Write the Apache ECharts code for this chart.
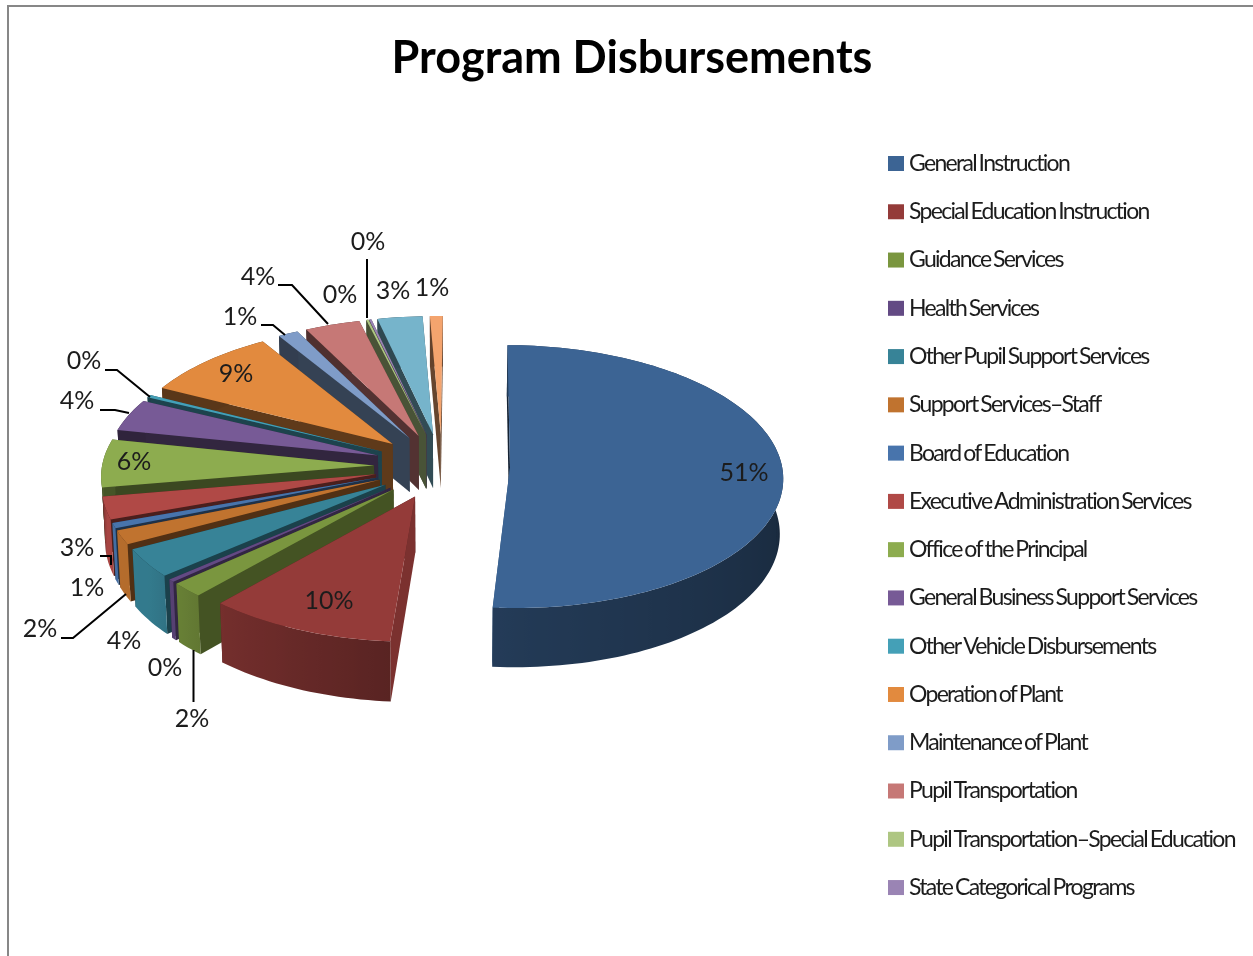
<!DOCTYPE html>
<html><head><meta charset="utf-8">
<style>html,body{margin:0;padding:0;background:#fff}#c{width:1253px;height:956px}</style>
<script src="https://cdn.jsdelivr.net/npm/echarts@6/dist/echarts.min.js"></script>
</head><body><div id="c"></div>
<script>
const titleText = 'Program Disbursements';
const names = ['General Instruction','Special Education Instruction','Guidance Services','Health Services','Other Pupil Support Services','Support Services–Staff','Board of Education','Executive Administration Services','Office of the Principal','General Business Support Services','Other Vehicle Disbursements','Operation of Plant','Maintenance of Plant','Pupil Transportation','Pupil Transportation–Special Education','State Categorical Programs','Other Programs','Other Disbursements'];
const legendCount = 16;
const values = [51.1,10.3,1.8,0.35,3.55,1.7,0.65,2.75,5.9,3.95,0.33,8.75,1.3,3.55,0.15,0.15,2.9,0.82];
const colors = ['#3c6494','#943b39','#7a963f','#634a84','#378397','#c0732f','#4874ac','#b04946','#8dac4f','#775a96','#44a0b7','#e28a3e','#7f9cc8','#c67876','#aec682','#9a84b4','#76b4cb','#f4a46e'];
// label centres and leader lines, in page pixels
const labelPos = [[744,473],[329,601],[192,719],[165,668],[124,641],[40,629],[87,588],[77,548],[134,462],[77,401],[84,361],[236,374],[240,317],[258,277],[340,295],[368,242],[393,291],[432,288]];
const leaders = {2:[[193.5,650],[193.5,702]],5:[[61,638],[73,638],[126,594]],7:[[100,556],[111,556],[111,565]],9:[[100,410],[115,410],[129,413]],10:[[105,370],[117,370],[150,397]],12:[[261,325],[273,325],[285,335]],13:[[278,285],[292,285],[328,324]],15:[[367,259],[367,318]]};

// the reference legend text is tightly tracked: apply that to the legend font only
const LEGEND_FONT_PX = 23;
const nativeFill = CanvasRenderingContext2D.prototype.fillText;
CanvasRenderingContext2D.prototype.fillText = function(t,x,y,m){
  const legendText = this.font.indexOf(LEGEND_FONT_PX+'px')>=0;
  this.letterSpacing = legendText ? '-1.7px' : '0px';
  this.wordSpacing = legendText ? '-1.5px' : '0px';
  return m===undefined ? nativeFill.call(this,t,x,y) : nativeFill.call(this,t,x,y,m);
};

const Cx=442, Cy=466, RX=272, RY=130.6, PERSP=0.07, EXPLODE=0.25, DEPTH=55, SHRINK=0.99, START_SHARE=0.12;
const total = values.reduce((a,b)=>a+b,0);
const starts = []; values.reduce((a,v,i)=>{starts[i]=a;return a+v;},START_SHARE);

function proj(X,Y,low){
  const w=1/(1+PERSP*Y);
  let x=Cx+RX*X*w, y=Cy-RY*Y*w;
  if(low){x=Cx+(x-Cx)*SHRINK; y+=DEPTH*w;}
  return [x,y];
}
function shade(hex,m){
  const n=parseInt(hex.slice(1),16);
  const f=s=>Math.round(((n>>s)&255)*m);
  return 'rgb('+f(16)+','+f(8)+','+f(0)+')';
}
function lerpTable(t,d){
  for(let i=1;i<t.length;i++) if(d<=t[i][0]){
    const a=t[i-1],b=t[i];return a[1]+(b[1]-a[1])*(d-a[0])/(b[0]-a[0]);
  }
  return t[t.length-1][1];
}
const OUTER=[[0,.4],[90,.4],[180,.58],[220,.78],[235,.93],[255,.95],[262,.5],[360,.45]];
function radialMult(d){ if(d<178) return .35; return Math.max(.42,Math.min(.83,.83-(d-185)*.0075)); }

function renderSlice(params,api){
  const val=api.value(0), start=api.value(1), hex=colors[api.value(2)];
  const a0=start/total*2*Math.PI, a1=(start+val)/total*2*Math.PI, mid=(a0+a1)/2;
  const ox=EXPLODE*Math.sin(mid), oy=EXPLODE*Math.cos(mid);
  const rim=(a,low)=>proj(ox+Math.sin(a),oy+Math.cos(a),low);
  const n=Math.max(2,Math.ceil((a1-a0)/(Math.PI/120)));
  const angs=[]; for(let i=0;i<=n;i++) angs.push(a0+(a1-a0)*i/n);
  const apexT=proj(ox,oy,false), apexB=proj(ox,oy,true);
  const poly=(pts,fill)=>({type:'polygon',shape:{points:pts},style:{fill:fill,stroke:null}});
  const wall=a=>poly([apexT,rim(a,false),rim(a,true),apexB],shade(hex,radialMult(a*180/Math.PI)));
  const walls=Math.cos(a0)>Math.cos(a1)?[wall(a0),wall(a1)]:[wall(a1),wall(a0)];
  const topArc=angs.map(a=>rim(a,false)), lowArc=angs.map(a=>rim(a,true)).reverse();
  const vis=angs.filter(a=>Math.cos(a)<0.15);
  let outerFill=shade(hex,.4);
  if(vis.length>1){
    const xs=vis.map(a=>rim(a,false)[0]), minX=Math.min(...xs), maxX=Math.max(...xs);
    const stops=vis.map((a,i)=>({offset:maxX>minX?(xs[i]-minX)/(maxX-minX):0,color:shade(hex,lerpTable(OUTER,a*180/Math.PI))})).sort((p,q)=>p.offset-q.offset);
    outerFill=new echarts.graphic.LinearGradient(0,0,1,0,stops);
  }
  const outer=poly(topArc.concat(lowArc),outerFill);
  const top=poly([apexT].concat(topArc),hex);
  return {type:'group',children:walls.concat([outer,top])};
}
function renderLabel(params,api){
  const i=api.value(0), p=labelPos[i], kids=[];
  if(leaders[i]) kids.push({type:'polyline',shape:{points:leaders[i]},style:{fill:null,stroke:'#000',lineWidth:2}});
  kids.push({type:'text',x:p[0],y:p[1],style:{text:Math.round(api.value(1)/total*100)+'%',fill:'#1c1c1c',font:'25px Lato',align:'center',verticalAlign:'middle'}});
  return {type:'group',children:kids};
}
const depthOf=i=>Math.cos((starts[i]+values[i]/2)/total*2*Math.PI);
const rank=values.map((v,i)=>i).sort((a,b)=>depthOf(b)-depthOf(a));
const series=values.map((v,i)=>({
  type:'custom',name:names[i],coordinateSystem:'none',renderItem:renderSlice,z:2+rank.indexOf(i),
  itemStyle:{color:colors[i]},silent:true,animation:false,
  data:[[v,starts[i],i]]
}));
series.push({type:'custom',name:'labels',coordinateSystem:'none',renderItem:renderLabel,z:40,silent:true,animation:false,
  data:values.map((v,i)=>[i,v])});

const chart=echarts.init(document.getElementById('c'),null,{renderer:'canvas'});
chart.setOption({
  backgroundColor:'#fff',animation:false,
  title:{text:titleText,left:627,top:31,textAlign:'center',textStyle:{fontFamily:'Lato',fontWeight:'bold',fontSize:45,color:'#000'}},
  legend:{orient:'vertical',left:883,top:147,icon:'rect',itemWidth:16,itemHeight:15,itemGap:25.27,selectedMode:false,
    data:names.slice(0,legendCount),textStyle:{fontFamily:'Lato',fontSize:LEGEND_FONT_PX,color:'#1c1c1c'}},
  graphic:[{type:'polyline',shape:{points:[[8,956],[8,6],[1253,6]]},style:{fill:null,stroke:'#878787',lineWidth:2}}],
  series:series
});
</script></body></html>
